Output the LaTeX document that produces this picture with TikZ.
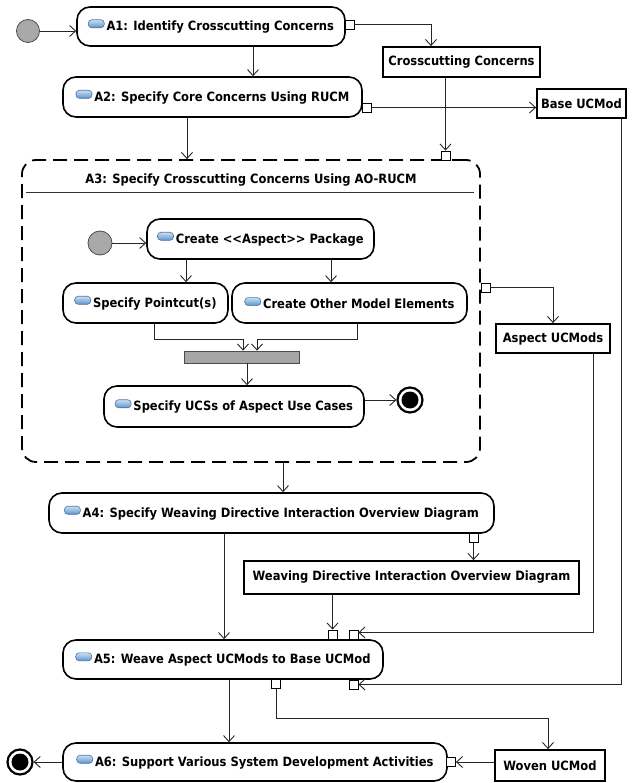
\documentclass[tikz,border=0pt]{standalone}
\usepackage{fontspec}
\setmainfont{DejaVu Sans Condensed}
\usetikzlibrary{arrows.meta}
\definecolor{startgray}{HTML}{A9A9A9}
\definecolor{bargray}{HTML}{A6A6A6}
\definecolor{icotop}{HTML}{C9DFF3}
\definecolor{icobot}{HTML}{5E94CC}
\definecolor{icoedge}{HTML}{4D74A0}
\newcommand\actico{\tikz[baseline=-3pt]{\draw[draw=icoedge,line width=0.6pt,rounded corners=3.4pt,top color=icotop,bottom color=icobot] (0pt,0pt) rectangle (16pt,8pt);}\hspace{2pt}}
\begin{document}
\begin{tikzpicture}[x=1pt,y=-1pt,
  font=\fontsize{12.8}{14}\selectfont\bfseries,
  action/.style={draw, line width=1.6pt, rounded corners=13pt, fill=white, inner sep=0pt},
  objbox/.style={draw, line width=1.8pt, fill=white, inner sep=0pt},
  pinbox/.style={draw, line width=0.8pt, fill=white, minimum size=9pt, inner sep=0pt},
  startnode/.style={circle, draw=black!70, line width=0.8pt, fill=startgray, minimum size=23pt, inner sep=0pt},
  endnode/.style={circle, draw, line width=2.2pt, fill=white, minimum size=25pt, inner sep=0pt},
  enddot/.style={fill=black},
  joinbar/.style={draw=black!70, line width=0.8pt, fill=bargray, inner sep=0pt},
  region/.style={draw, line width=1.8pt, dash pattern=on 14pt off 7pt, rounded corners=14pt, inner sep=0pt},
  flow/.style={draw=black!85, line width=0.9pt, -{Straight Barb[length=6pt,width=11pt]}},
  wire/.style={draw=black!85, line width=0.9pt}
]
\useasboundingbox (0,0) rectangle (631,783);

% ---- top level activities
\node[startnode] (init1) at (28,31) {};
\node[action, minimum width=268pt, minimum height=39pt] (A1) at (211,26.5) {\actico A1: Identify Crosscutting Concerns};
\node[action, minimum width=299pt, minimum height=40pt] (A2) at (212.5,97) {\actico A2: Specify Core Concerns Using RUCM};
\node[objbox, minimum width=157pt, minimum height=30pt] (CC) at (461.5,62) {Crosscutting Concerns};
\node[objbox, minimum width=89pt, minimum height=29pt] (Base) at (581.5,103.5) {Base UCMod};

% ---- structured activity A3
\node[region, minimum width=458pt, minimum height=302pt] (A3) at (251,311) {};
\node (A3title) at (251,180) {A3: Specify Crosscutting Concerns Using AO-RUCM};
\draw[line width=0.8pt, draw=black!80] (26,192) -- (474,192);
\node[startnode, minimum size=24pt] (init2) at (100,243) {};
\node[action, minimum width=227pt, minimum height=40pt] (Create) at (260.5,239) {\actico Create <{}<Aspect>{}> Package};
\node[action, minimum width=165pt, minimum height=40pt] (Point) at (145.5,303) {\actico Specify Pointcut(s)};
\node[action, minimum width=235pt, minimum height=40pt] (Other) at (349.5,303) {\actico Create Other Model Elements};
\node[joinbar, minimum width=115pt, minimum height=12pt] (bar) at (241.5,357) {};
\node[action, minimum width=260pt, minimum height=41pt] (UCS) at (234,406.5) {\actico Specify UCSs of Aspect Use Cases};
\node[endnode] (fin1) at (410,400) {};
\fill[enddot] (fin1.center) circle (8.5pt);
\node[objbox, minimum width=114pt, minimum height=29pt] (Aspect) at (553,338.5) {Aspect UCMods};

% ---- lower activities
\node[action, minimum width=445pt, minimum height=40pt] (A4) at (271.5,513) {\actico A4: Specify Weaving Directive Interaction Overview Diagram};
\node[objbox, minimum width=335pt, minimum height=33pt] (WD) at (411.5,577.5) {Weaving Directive Interaction Overview Diagram};
\node[action, minimum width=320pt, minimum height=39pt] (A5) at (223,659.5) {\actico A5: Weave Aspect UCMods to Base UCMod};
\node[objbox, minimum width=110pt, minimum height=31pt] (Woven) at (550,765.5) {Woven UCMod};
\node[action, minimum width=384pt, minimum height=38pt] (A6) at (255,762) {\actico A6: Support Various System Development Activities};
\node[endnode] (fin2) at (20,762) {};
\fill[enddot] (fin2.center) circle (8.5pt);

% ---- pins
\node[pinbox] (pA1) at (349.5,24.5) {};
\node[pinbox] (pA2) at (366.5,107.5) {};
\node[pinbox] (pCC) at (445.5,155.5) {};
\node[pinbox] (pA3) at (485.5,287.5) {};
\node[pinbox] (pA4) at (473.5,537.5) {};
\node[pinbox] (pA5a) at (332.5,634.5) {};
\node[pinbox] (pA5b) at (353.5,634.5) {};
\node[pinbox] (pA5c) at (353.5,684.5) {};
\node[pinbox] (pA5d) at (276,684) {};
\node[pinbox] (pA6) at (451,762) {};

% ---- control flows
\draw[flow] (init1.east) -- (init1.east -| A1.west);
\draw[flow] ([xshift=42pt]A1.south) -- ([xshift=42pt]A1.south |- A2.north);
\draw[flow] ([xshift=-25.5pt]A2.south) -- ([xshift=-25.5pt]A2.south |- A3.north);
\draw[flow] (init2.east) -- (init2.east -| Create.west);
\draw[flow] ([xshift=-74.5pt]Create.south) -- ([xshift=-74.5pt]Create.south |- Point.north);
\draw[flow] ([xshift=70.5pt]Create.south) -- ([xshift=70.5pt]Create.south |- Other.north);
\draw[flow] ([xshift=8.5pt]Point.south) -- ++(0,16) -| ([xshift=1.5pt]bar.north);
\draw[flow] ([xshift=7.5pt]Other.south) -- ++(0,16) -| ([xshift=15.5pt]bar.north);
\draw[flow] ([xshift=5.5pt]bar.south) -- ([xshift=5.5pt]bar.south |- UCS.north);
\draw[flow] (fin1.west -| UCS.east) -- (fin1.west);
\draw[flow] ([xshift=32pt]A3.south) -- ([xshift=32pt]A3.south |- A4.north);
\draw[flow] ([xshift=-47.5pt]A4.south) -- ([xshift=-47.5pt]A4.south |- A5.north);
\draw[flow] ([xshift=6pt]A5.south) -- ([xshift=6pt]A5.south |- A6.north);
\draw[flow] (A6.west) -- (fin2.east);

% ---- object flows
\draw[flow] (pA1.east) -| ([xshift=-30.5pt]CC.north);
\draw[flow] (pCC.north |- CC.south) -- (pCC.north);
\draw[flow] (pA2.east) -- (pA2.east -| Base.west);
\draw[flow] ([xshift=39.5pt]Base.south) |- (pA5c.east);
\draw[flow] (pA3.east) -| (Aspect.north);
\draw[flow] ([xshift=40pt]Aspect.south) |- ([yshift=2pt]pA5b.east);
\draw[flow] (pA4.south) -- (pA4.south |- WD.north);
\draw[flow] (pA5a.north |- WD.south) -- (pA5a.north);
\draw[flow] (pA5d.south) -- ++(0,30) -| ([xshift=-2pt]Woven.north);
\draw[flow] (Woven.west |- pA6.east) -- (pA6.east);
\end{tikzpicture}
\end{document}
